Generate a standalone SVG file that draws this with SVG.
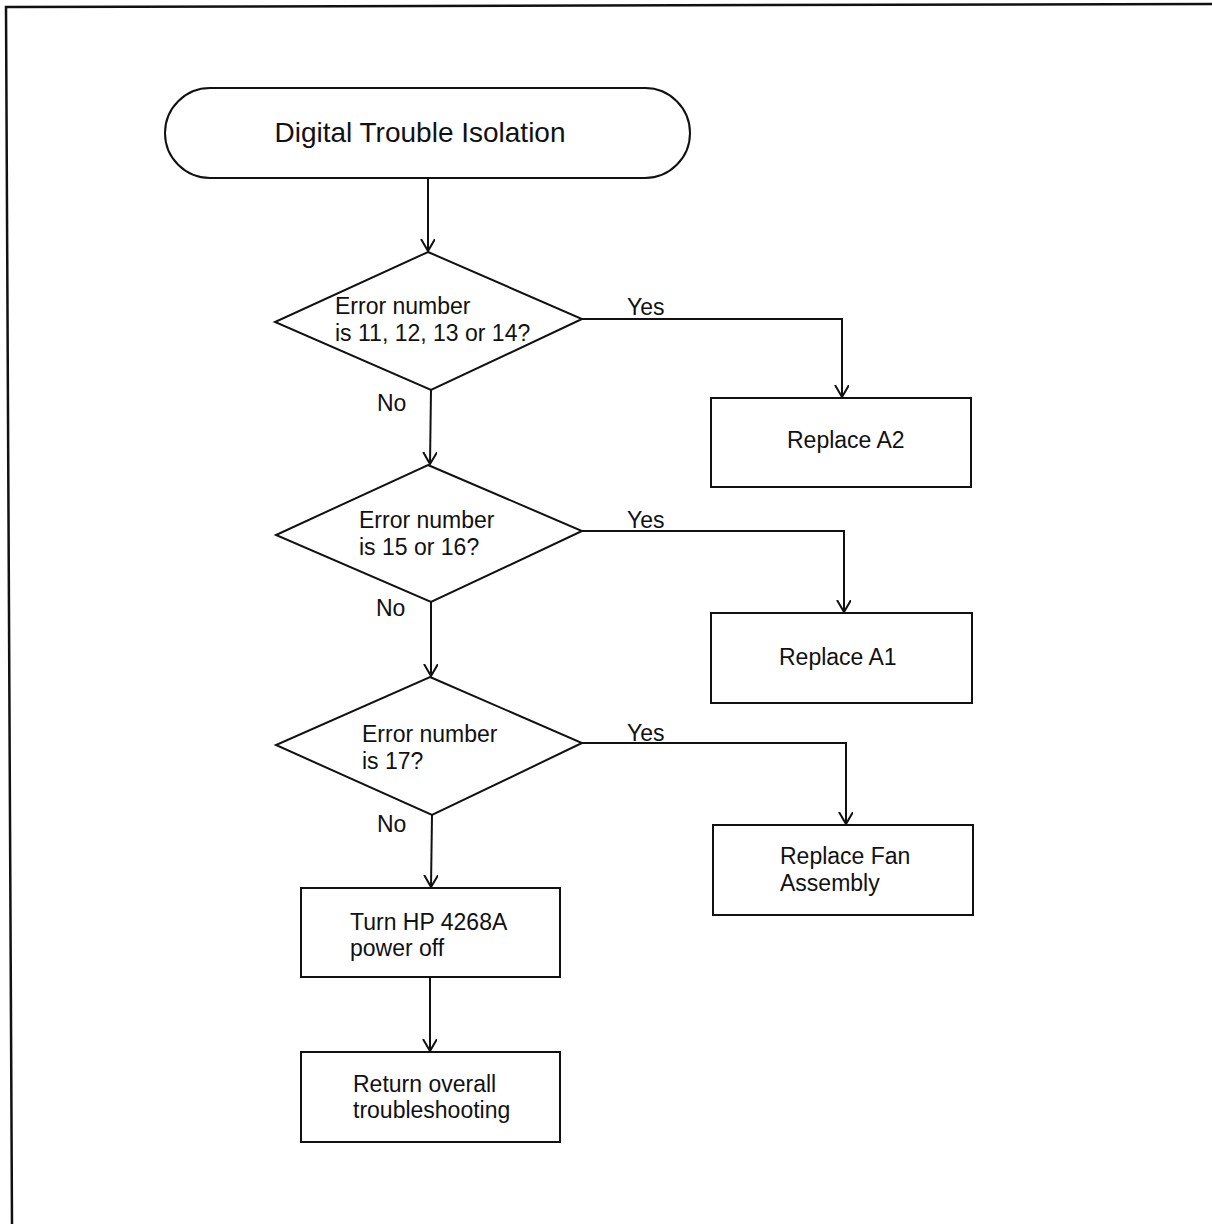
<svg xmlns="http://www.w3.org/2000/svg" width="1212" height="1224" viewBox="0 0 1212 1224">
<style>
.shape{fill:#fff;stroke:#111;stroke-width:2}
.conn{fill:none;stroke:#111;stroke-width:2}
text{font-family:"Liberation Sans",Arial,sans-serif;font-size:23px;fill:#111}
.title{font-size:28px}
</style>
<defs>
<marker id="arr" markerUnits="userSpaceOnUse" markerWidth="16" markerHeight="16" refX="12" refY="7" orient="auto">
<path d="M0,0 L12,7 L0,14" fill="none" stroke="#111" stroke-width="2"/>
</marker>
</defs>
<rect width="1212" height="1224" fill="#fff"/>
<path d="M12,1224 L6,7 L1212,4" fill="none" stroke="#111" stroke-width="2.5"/>

<g id="connectors">
<line class="conn" x1="428" y1="178" x2="428" y2="251" marker-end="url(#arr)"/>
<line class="conn" x1="431" y1="390" x2="430" y2="464" marker-end="url(#arr)"/>
<line class="conn" x1="431" y1="602" x2="431" y2="676" marker-end="url(#arr)"/>
<line class="conn" x1="432" y1="815" x2="431" y2="887" marker-end="url(#arr)"/>
<line class="conn" x1="430" y1="978" x2="430" y2="1051" marker-end="url(#arr)"/>
<polyline class="conn" points="582,319 842,319 842,397" marker-end="url(#arr)"/>
<polyline class="conn" points="582,531 844,531 844,612" marker-end="url(#arr)"/>
<polyline class="conn" points="582,743 846,743 846,824" marker-end="url(#arr)"/>
<text x="627" y="315">Yes</text>
<text x="377" y="411">No</text>
<text x="627" y="528">Yes</text>
<text x="376" y="616">No</text>
<text x="627" y="741">Yes</text>
<text x="377" y="832">No</text>
</g>

<g id="start">
<rect class="shape" x="165" y="88" width="525" height="90" rx="45" ry="45"/>
<text class="title" x="420" y="142" text-anchor="middle">Digital Trouble Isolation</text>
</g>

<g id="d1">
<polygon class="shape" points="428,252 582,319 431,390 275,322"/>
<text x="335" y="314">Error number</text>
<text x="335" y="341">is 11, 12, 13 or 14?</text>
</g>

<g id="d2">
<polygon class="shape" points="428,465 582,531 431,602 276,535"/>
<text x="359" y="528">Error number</text>
<text x="359" y="555">is 15 or 16?</text>
</g>

<g id="d3">
<polygon class="shape" points="430,677 582,743 432,815 276,745"/>
<text x="362" y="742">Error number</text>
<text x="362" y="769">is 17?</text>
</g>

<g id="a2">
<rect class="shape" x="711" y="398" width="260" height="89"/>
<text x="787" y="448">Replace A2</text>
</g>

<g id="a1">
<rect class="shape" x="711" y="613" width="261" height="90"/>
<text x="779" y="665">Replace A1</text>
</g>

<g id="fan">
<rect class="shape" x="713" y="825" width="260" height="90"/>
<text x="780" y="864">Replace Fan</text>
<text x="780" y="891">Assembly</text>
</g>

<g id="poweroff">
<rect class="shape" x="301" y="888" width="259" height="89"/>
<text x="350" y="930">Turn HP 4268A</text>
<text x="350" y="956">power off</text>
</g>

<g id="return">
<rect class="shape" x="301" y="1052" width="259" height="90"/>
<text x="353" y="1092">Return overall</text>
<text x="353" y="1118">troubleshooting</text>
</g>
</svg>
